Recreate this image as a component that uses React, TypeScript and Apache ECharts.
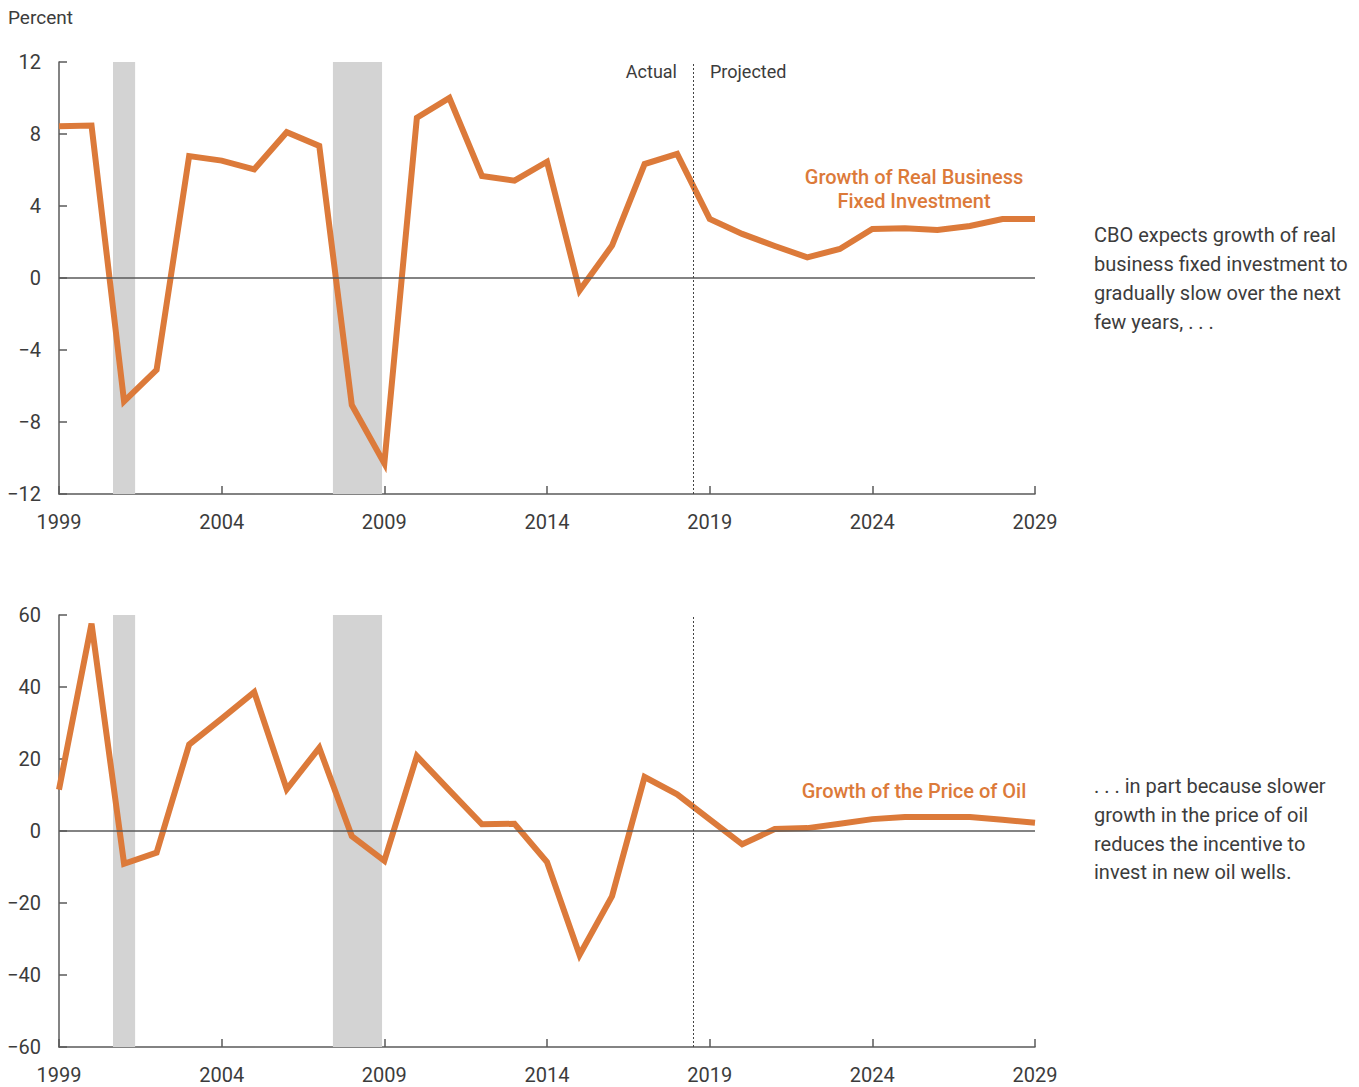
import React, { useEffect, useRef } from "react";
import * as echarts from "echarts";

// Annual years on the horizontal axis
const years = [
  1999, 2000, 2001, 2002, 2003, 2004, 2005, 2006, 2007, 2008, 2009, 2010, 2011, 2012, 2013, 2014,
  2015, 2016, 2017, 2018, 2019, 2020, 2021, 2022, 2023, 2024, 2025, 2026, 2027, 2028, 2029,
];

// Growth of real business fixed investment, percent
const investmentGrowth = [
  8.43, 8.47, -6.86, -5.1, 6.77, 6.52, 6.04, 8.1, 7.34, -7.06, -10.3, 8.9, 10.0, 5.67, 5.41, 6.46,
  -0.7, 1.8, 6.33, 6.89, 3.28, 2.45, 1.78, 1.15, 1.61, 2.72, 2.76, 2.67, 2.89, 3.28, 3.28,
];

// Growth of the price of oil, percent
const oilPriceGrowth = [
  11.5, 57.6, -9.1, -6.0, 24.0, 31.2, 38.6, 11.6, 23.1, -1.4, -8.3, 20.8, 11.3, 1.85, 2.0, -8.6,
  -34.4, -18.1, 15.0, 10.2, 3.2, -3.7, 0.55, 0.8, 2.0, 3.3, 3.9, 3.9, 3.9, 3.1, 2.3,
];

// Recession periods (fractional years)
const recessions: [number, number][] = [
  [2000.66, 2001.34],
  [2007.42, 2008.93],
];

// Boundary between actual and projected values
const projectionStart = 2018.5;

const baseYear = 1999;
const xTicks = 5;

const topTicks = { min: -12, max: 12, interval: 4 };
const bottomTicks = { min: -60, max: 60, interval: 20 };

const ORANGE = "#DC7A3A";
const AXIS = "#5a5a5a";
const TEXT = "#3c3c3c";
const FONT = "Roboto, 'Noto Sans', sans-serif";

const minus = (v: number) => String(v).replace("-", "\u2212");

export default function App() {
  const ref = useRef<HTMLDivElement>(null);

  useEffect(() => {
    if (!ref.current) return;
    const chart = echarts.init(ref.current, null, { renderer: "svg" });

    const grids = [
      { left: 59, top: 62, width: 976, height: 432 },
      { left: 59, top: 615, width: 976, height: 432 },
    ];

    const xAxis = grids.map((_, i) => ({
      type: "value",
      gridIndex: i,
      min: 0,
      max: years[years.length - 1] - baseYear,
      interval: xTicks,
      axisLine: { show: true, onZero: false, lineStyle: { color: AXIS, width: 1.5 } },
      axisTick: { show: true, inside: true, length: 8, lineStyle: { color: AXIS, width: 1.5 } },
      axisLabel: {
        color: TEXT,
        fontSize: 20,
        fontFamily: FONT,
        margin: 18,
        formatter: (v: number) => String(v + baseYear),
      },
      splitLine: { show: false },
    }));

    const yAxis = [topTicks, bottomTicks].map((t, i) => ({
      type: "value",
      gridIndex: i,
      min: t.min,
      max: t.max,
      interval: t.interval,
      axisLine: { show: true, onZero: false, lineStyle: { color: AXIS, width: 1.5 } },
      axisTick: { show: true, inside: true, length: 8, lineStyle: { color: AXIS, width: 1.5 } },
      axisLabel: {
        color: TEXT,
        fontSize: 20,
        fontFamily: FONT,
        margin: 18,
        formatter: (v: number) => minus(v),
      },
      splitLine: { show: false },
    }));

    const backdrop = (i: number) => ({
      type: "line",
      xAxisIndex: i,
      yAxisIndex: i,
      data: [],
      silent: true,
      z: 1,
      markArea: {
        silent: true,
        itemStyle: { color: "#d3d3d3" },
        data: recessions.map(([a, b]) => [{ xAxis: a - baseYear }, { xAxis: b - baseYear }]),
      },
      markLine: {
        silent: true,
        symbol: "none",
        label: { show: false },
        data: [
          { yAxis: 0, lineStyle: { color: AXIS, width: 1.5, type: "solid" } },
          { xAxis: projectionStart - baseYear, lineStyle: { color: "#444", width: 1, type: [2, 2] } },
        ],
      },
    });

    const line = (i: number, values: number[]) => ({
      type: "line",
      xAxisIndex: i,
      yAxisIndex: i,
      z: 3,
      showSymbol: false,
      symbol: "none",
      lineStyle: { color: ORANGE, width: 6, join: "miter" },
      data: values.map((v, k) => [years[k] - baseYear, v]),
    });

    const txt = (
      left: number,
      top: number,
      text: string,
      opts: Record<string, unknown> = {}
    ) => ({
      type: "text",
      x: left,
      y: top,
      style: {
        text,
        fill: TEXT,
        font: `20px ${FONT}`,
        textVerticalAlign: "middle",
        ...opts,
      },
    });

    chart.setOption({
      animation: false,
      backgroundColor: "#ffffff",
      grid: grids,
      xAxis,
      yAxis,
      series: [
        backdrop(0),
        backdrop(1),
        line(0, investmentGrowth),
        line(1, oilPriceGrowth),
      ],
      graphic: [
        txt(8, 17, "Percent", { font: `19px ${FONT}` }),
        txt(677, 71, "Actual", { textAlign: "right", font: `18px ${FONT}` }),
        txt(710, 71, "Projected", { textAlign: "left", font: `18px ${FONT}` }),
        txt(914, 177, "Growth of Real Business", {
          textAlign: "center",
          fill: ORANGE,
          font: `500 20px ${FONT}`,
        }),
        txt(914, 201, "Fixed Investment", {
          textAlign: "center",
          fill: ORANGE,
          font: `500 20px ${FONT}`,
        }),
        txt(914, 791, "Growth of the Price of Oil", {
          textAlign: "center",
          fill: ORANGE,
          font: `500 20px ${FONT}`,
        }),
        txt(1094, 235, "CBO expects growth of real"),
        txt(1094, 264, "business fixed investment to"),
        txt(1094, 293, "gradually slow over the next"),
        txt(1094, 322, "few years, . . ."),
        txt(1094, 786, ". . . in part because slower"),
        txt(1094, 815, "growth in the price of oil"),
        txt(1094, 844, "reduces the incentive to"),
        txt(1094, 872, "invest in new oil wells."),
      ],
    });

    return () => chart.dispose();
  }, []);

  return (
    <div
      ref={ref}
      style={{ position: "fixed", left: 0, top: 0, width: 1359, height: 1087, background: "#fff" }}
    />
  );
}
